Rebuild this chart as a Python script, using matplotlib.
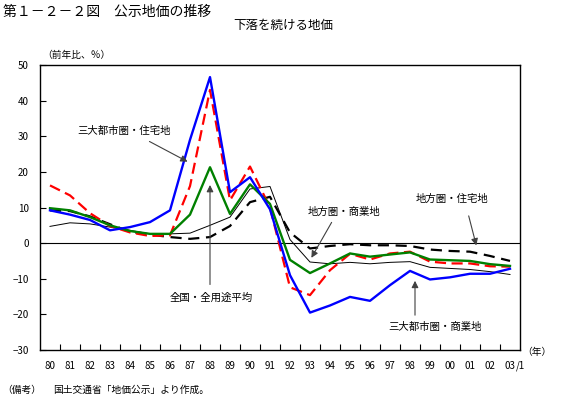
import matplotlib
matplotlib.use('Agg')
from matplotlib import pyplot as plt
import numpy as np

plt.rcParams['font.family'] = ['Noto Sans CJK JP', 'DejaVu Sans']

years = ['80', '81', '82', '83', '84', '85', '86', '87', '88', '89', '90', '91',
         '92', '93', '94', '95', '96', '97', '98', '99', '00', '01', '02', '03']

# 三大都市圏・商業地 (blue)
metro_com = [9.2, 8.0, 6.5, 3.6, 4.5, 5.9, 9.2, 29.0, 46.6, 14.3, 18.5, 9.5,
             -9.0, -19.5, -17.5, -15.1, -16.2, -11.8, -7.8, -10.2, -9.6, -8.6, -8.6, -7.2]
# 三大都市圏・住宅地 (red dashed)
metro_res = [16.2, 13.4, 8.4, 4.8, 3.0, 2.0, 2.2, 16.0, 43.0, 12.0, 21.5, 10.0,
             -12.4, -14.6, -7.6, -3.0, -4.6, -2.9, -2.4, -5.2, -5.7, -5.7, -6.5, -6.6]
# 全国・全用途平均 (green)
nat_avg = [9.8, 9.2, 7.3, 5.0, 3.4, 2.6, 2.6, 8.0, 21.3, 8.2, 16.5, 11.0,
           -4.7, -8.4, -5.7, -2.9, -3.8, -3.2, -2.6, -4.6, -4.8, -5.0, -5.9, -6.4]
# 地方圏・商業地 (thin black)
local_com = [4.7, 5.7, 5.4, 4.5, 3.6, 2.6, 2.6, 2.8, 5.0, 7.3, 15.2, 15.9,
             1.0, -5.3, -5.8, -5.4, -5.8, -5.4, -5.2, -6.8, -7.1, -7.4, -8.0, -8.8]
# 地方圏・住宅地 (black dashed)
local_res = [9.2, 9.0, 7.5, 5.3, 3.2, 2.4, 1.7, 1.2, 1.7, 4.8, 11.5, 13.0,
             3.0, -1.5, -0.8, -0.3, -0.6, -0.6, -0.8, -1.8, -2.2, -2.4, -3.6, -5.0]

W, H = 567, 415
fig = plt.figure(figsize=(W / 100, H / 100), dpi=100)
ax = fig.add_axes([40 / W, 1 - 350 / H, 480 / W, 285 / H])

x = np.arange(len(years))
ax.axhline(0, color='black', lw=0.8)
ax.plot(x, local_com, color='black', lw=0.7)
ax.plot(x, local_res, color='black', lw=1.6, dashes=(5, 3))
ax.plot(x, metro_res, color='#ff0000', lw=1.6, dashes=(5, 2.5))
ax.plot(x, nat_avg, color='#008000', lw=1.7)
ax.plot(x, metro_com, color='#0000ff', lw=1.7)

ax.set_xlim(-0.5, len(years) - 0.5)
ax.set_ylim(-30, 50)
ax.set_yticks(np.arange(-30, 51, 10))
ax.set_xticks(x)
ax.set_xticklabels(years)
ax.set_xticks(np.arange(0.5, len(years) - 1, 1), minor=True)
ax.tick_params(axis='x', which='major', length=0, labelsize=7, pad=8)
ax.tick_params(axis='x', which='minor', direction='in', length=4, width=0.8)
ax.tick_params(axis='y', direction='in', length=4, width=0.8, labelsize=7, pad=8)
for s in ax.spines.values():
    s.set_linewidth(1.0)

# annotations
arr = dict(arrowstyle='-|>', color='#404040', lw=0.8, mutation_scale=10)
fs = 7.5
ax.text(3.7, 31.4, '三大都市圏・住宅地', fontsize=fs, ha='center', va='center')
ax.annotate('', xy=(7.0, 22.5), xytext=(4.85, 28.9), arrowprops=arr)
ax.text(8.05, -15.4, '全国・全用途平均', fontsize=fs, ha='center', va='center')
ax.annotate('', xy=(8.0, 17.1), xytext=(8.0, -12.4), arrowprops=arr)
ax.text(14.7, 8.7, '地方圏・商業地', fontsize=fs, ha='center', va='center')
ax.annotate('', xy=(13.0, -4.8), xytext=(14.15, 6.5), arrowprops=arr)
ax.text(20.1, 12.4, '地方圏・住宅地', fontsize=fs, ha='center', va='center')
ax.annotate('', xy=(21.35, -1.4), xytext=(20.9, 8.4), arrowprops=arr)
ax.text(19.25, -23.6, '三大都市圏・商業地', fontsize=fs, ha='center', va='center')
ax.annotate('', xy=(18.25, -9.8), xytext=(18.25, -21.0), arrowprops=arr)

def ftext(px, py, s, **kw):
    fig.text(px / W, 1 - py / H, s, va='center', **kw)

ftext(3, 12, '第１－２－２図　公示地価の推移', fontsize=10)
ftext(283, 25, '下落を続ける地価', fontsize=9, ha='center')
ftext(42, 55, '（前年比、％）', fontsize=7)
ftext(522, 352, '（年）', fontsize=7)
ftext(516, 366, '/1', fontsize=7)
ftext(2, 390, '（備考）', fontsize=7)
ftext(53, 390, '国土交通省「地価公示」より作成。', fontsize=7)

fig.savefig('out.png', dpi=100)
